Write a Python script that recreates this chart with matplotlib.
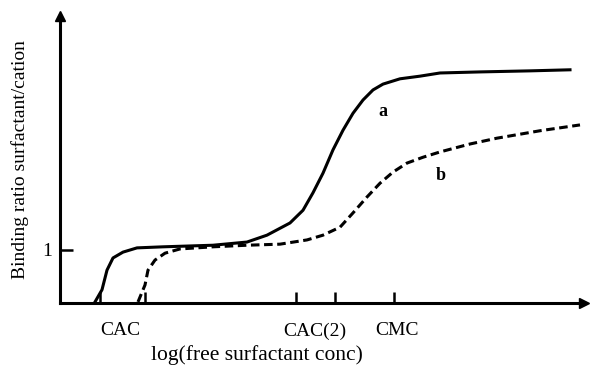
import numpy as np
import matplotlib
matplotlib.use("Agg")
import matplotlib.pyplot as plt

# curve a (solid): x in log units, y as binding ratio
a_x = [0.70, 0.84, 0.94, 1.06, 1.26, 1.54, 2.06, 3.06, 3.74, 4.14, 4.60,
       4.86, 5.06, 5.26, 5.46, 5.66, 5.86, 6.06, 6.26, 6.46, 6.80, 7.20,
       7.60, 8.40, 9.40, 10.20]
a_y = [0.02, 0.25, 0.62, 0.85, 0.96, 1.04, 1.06, 1.09, 1.15, 1.28, 1.51,
       1.75, 2.08, 2.45, 2.89, 3.26, 3.58, 3.83, 4.02, 4.13, 4.23, 4.28,
       4.34, 4.36, 4.38, 4.40]

# curve b (dashed)
b_x = [1.56, 1.70, 1.76, 1.90, 2.10, 2.40, 3.06, 3.74, 4.40, 4.94, 5.26,
       5.60, 5.86, 6.14, 6.40, 6.66, 6.94, 7.26, 7.60, 8.20, 8.74, 9.60,
       10.40]
b_y = [0.02, 0.34, 0.62, 0.81, 0.94, 1.02, 1.06, 1.09, 1.11, 1.19, 1.28,
       1.43, 1.70, 2.00, 2.26, 2.47, 2.64, 2.75, 2.85, 3.00, 3.11, 3.25,
       3.36]

# tick marks on the x axis and the labels between them
mark_x = [0.80, 1.70, 4.72, 5.50, 6.68]
label_x = [1.20, 5.10, 6.74]
label_text = ["CAC", "CAC(2)", "CMC"]

plt.rcParams["font.family"] = ["Liberation Serif", "DejaVu Serif"]

fig = plt.figure(figsize=(5.9, 3.67), dpi=100)
ax = fig.add_axes([60 / 590, 64 / 367, 524 / 590, 287 / 367])

lw = 2.2
ax.plot(a_x, a_y, color="black", lw=lw, solid_joinstyle="round")
ax.plot(b_x, b_y, color="black", lw=lw, ls=(0, (2.8, 1.5)))

ax.text(6.46, 3.62, "a", fontsize=13, fontweight="bold", ha="center", va="center")
ax.text(7.62, 2.40, "b", fontsize=13, fontweight="bold", ha="center", va="center")

ax.set_xlim(0, 10.48)
ax.set_ylim(0, 5.415)

for side in ["top", "right"]:
    ax.spines[side].set_visible(False)
for side in ["left", "bottom"]:
    ax.spines[side].set_linewidth(lw)

# arrow heads at the ends of the axes
ax.plot(1, 0, ">k", ms=7, transform=ax.transAxes, clip_on=False)
ax.plot(0, 1, "^k", ms=7, transform=ax.transAxes, clip_on=False)

ax.set_xticks(label_x)
ax.set_xticklabels(label_text)
ax.set_xticks(mark_x, minor=True)
ax.tick_params(axis="x", which="major", length=0, pad=14, labelsize=14)
ax.tick_params(axis="x", which="minor", direction="in", length=8, width=1.8)

ax.set_yticks([1])
ax.set_yticklabels(["1"])
ax.tick_params(axis="y", direction="in", length=9, width=1.8, pad=6, labelsize=14)

ax.set_xlabel("log(free surfactant conc)", fontsize=15.5)
ax.xaxis.set_label_coords(0.376, -0.145)
ax.set_ylabel("Binding ratio surfactant/cation", fontsize=14, labelpad=9)

fig.savefig("out.png", dpi=100)
